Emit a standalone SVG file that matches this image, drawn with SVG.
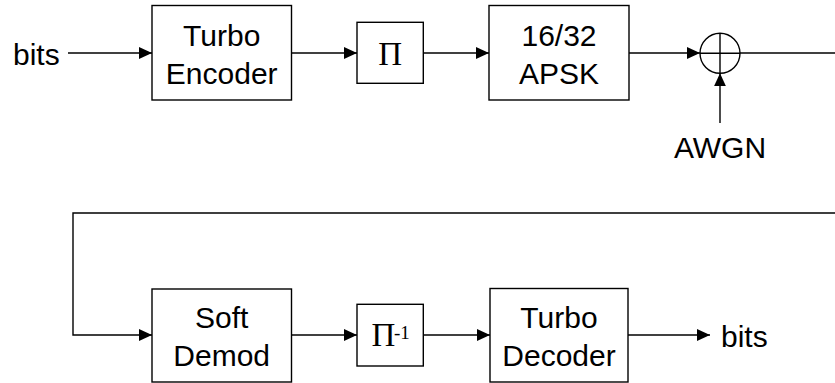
<svg xmlns="http://www.w3.org/2000/svg" width="835" height="383" viewBox="0 0 835 383">
<style>
  .box { fill: #ffffff; stroke: #000000; stroke-width: 1.4; }
  .line { fill: none; stroke: #000000; stroke-width: 1.4; }
  .arr { marker-end: url(#ah); }
  .lbl { font-family: "Liberation Sans", Arial, sans-serif; font-size: 30px; fill: #000000; }
  .mid { text-anchor: middle; }
  .greek { font-family: "Liberation Serif", "Times New Roman", serif; font-size: 33px; fill: #000000; }
  .sup { font-family: "Liberation Serif", "Times New Roman", serif; font-size: 19px; fill: #000000; }
</style>
<defs>
  <marker id="ah" markerUnits="userSpaceOnUse" markerWidth="13" markerHeight="12" refX="13" refY="6" orient="auto">
    <path d="M0,0 L13,6 L0,12 z" fill="#000000"/>
  </marker>
</defs>
<rect width="835" height="383" fill="#ffffff"/>

<g id="connectors">
  <path class="line arr" d="M68,53 H152"/>
  <path class="line arr" d="M291.5,53 H357"/>
  <path class="line arr" d="M423,53 H489"/>
  <path class="line arr" d="M629,53 H700"/>
  <path class="line arr" d="M720,123 V73.3"/>
  <path class="line" d="M740,53 H835"/>
  <path class="line arr" d="M835,213 H73 V335 H152"/>
  <path class="line arr" d="M291.5,335 H357"/>
  <path class="line arr" d="M423,335 H490"/>
  <path class="line arr" d="M628,335 H710"/>
</g>

<g id="bits-in">
  <text class="lbl" x="13" y="65">bits</text>
</g>

<g id="turbo-encoder">
  <rect class="box" x="152" y="5.5" width="139.5" height="94.5"/>
  <text class="lbl mid" x="221.7" y="46">Turbo</text>
  <text class="lbl mid" x="221.7" y="83.5">Encoder</text>
</g>

<g id="interleaver">
  <rect class="box" x="357" y="22.3" width="66.3" height="61"/>
  <text class="greek mid" x="390.2" y="65">Π</text>
</g>

<g id="apsk">
  <rect class="box" x="489" y="5.5" width="140" height="94.5"/>
  <text class="lbl mid" x="559" y="46">16/32</text>
  <text class="lbl mid" x="559" y="83.5">APSK</text>
</g>

<g id="adder">
  <circle class="line" cx="720" cy="53.3" r="20"/>
  <path class="line" d="M720,33.3 V73.3 M700,53.3 H740"/>
</g>

<g id="awgn">
  <text class="lbl mid" x="720" y="158">AWGN</text>
</g>

<g id="soft-demod">
  <rect class="box" x="152" y="289" width="139.5" height="93"/>
  <text class="lbl mid" x="221.7" y="327.5">Soft</text>
  <text class="lbl mid" x="221.7" y="365.7">Demod</text>
</g>

<g id="deinterleaver">
  <rect class="box" x="357" y="304.3" width="66.3" height="61.7"/>
  <text class="greek" x="371.5" y="346">Π</text>
  <text class="sup" x="394" y="338.5">-1</text>
</g>

<g id="turbo-decoder">
  <rect class="box" x="490" y="288.5" width="138" height="93.5"/>
  <text class="lbl mid" x="559" y="327.5">Turbo</text>
  <text class="lbl mid" x="559" y="365.7">Decoder</text>
</g>

<g id="bits-out">
  <text class="lbl" x="721" y="347">bits</text>
</g>
</svg>
